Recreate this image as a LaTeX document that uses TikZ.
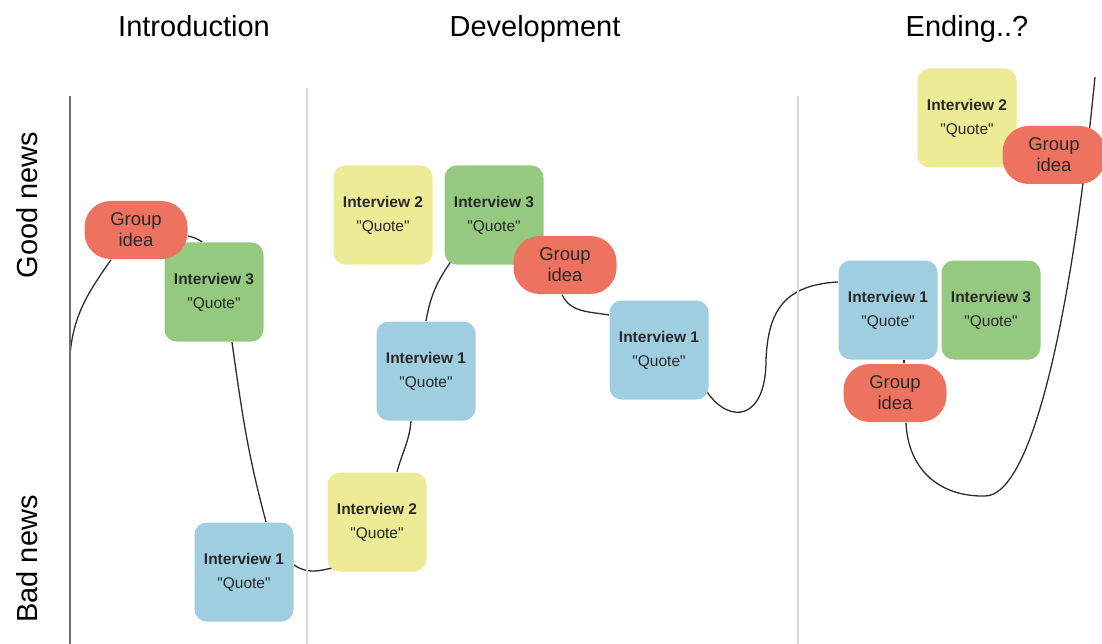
\documentclass[tikz,border=0pt]{standalone}
\usepackage{fontspec}
\setmainfont{Liberation Sans}
\usetikzlibrary{backgrounds}
\tikzstyle{every path}=[line width=1.3pt]
\definecolor{ideared}{RGB}{237,115,96}
\definecolor{quotegreen}{RGB}{150,201,128}
\definecolor{quoteblue}{RGB}{158,206,224}
\definecolor{quoteyellow}{RGB}{238,235,150}
\definecolor{storyline}{RGB}{45,45,45}
\definecolor{notetext}{RGB}{40,40,40}
\definecolor{axisgray}{RGB}{110,110,110}
\definecolor{divider}{RGB}{215,215,215}
\newcommand{\quoteline}{\textquotedbl Quote\textquotedbl}
\tikzstyle{interview} = [rounded corners=12pt, minimum width=99pt, minimum height=99pt,
    inner sep=0pt, align=center, text=notetext, font=\fontsize{15.5}{24}\selectfont]
\tikzstyle{groupidea} = [fill=ideared, rounded corners=26pt, minimum width=103pt,
    minimum height=58pt, inner sep=0pt, align=center, text=notetext,
    font=\fontsize{18.5}{21}\selectfont]
\tikzstyle{heading} = [inner sep=0pt, anchor=base, font=\fontsize{29}{34}\selectfont]
\tikzstyle{story} = [draw=storyline, line width=1.3pt]

\begin{document}
\begin{tikzpicture}[x=1pt, y=-1pt]
            \useasboundingbox (0,0) rectangle (1102,644);

            \node[heading] (intro) at (194,37) {Introduction};
            \node[heading] (devel) at (535,37) {Development};
            \node[heading] (ending) at (967,37) {Ending..?};
            \node[heading, rotate=90] (good) at (37,205) {Good news};
            \node[heading, rotate=90] (bad) at (37,559) {Bad news};

            \draw[axisgray, line width=1.2pt] (70,96) -- (70,644);
            \draw[divider, line width=1.5pt] (307,88) -- (307,644);
            \draw[divider, line width=1.5pt] (798,96) -- (798,644);

            \node[interview, fill=quotegreen] (intro3) at (214,292) {\textbf{Interview 3}\\\quoteline};
            \node[groupidea] (introidea) at (136,230) {Group\\idea};
            \node[interview, fill=quoteblue] (intro1) at (244,572) {\textbf{Interview 1}\\\quoteline};

            \node[interview, fill=quoteyellow] (devel2low) at (377,522) {\textbf{Interview 2}\\\quoteline};
            \node[interview, fill=quoteblue] (devel1low) at (426,371) {\textbf{Interview 1}\\\quoteline};
            \node[interview, fill=quoteyellow] (devel2high) at (383,215) {\textbf{Interview 2}\\\quoteline};
            \node[interview, fill=quotegreen] (devel3) at (494,215) {\textbf{Interview 3}\\\quoteline};
            \node[groupidea] (develidea) at (565,265) {Group\\idea};
            \node[interview, fill=quoteblue] (devel1high) at (659,350) {\textbf{Interview 1}\\\quoteline};

            \node[interview, fill=quoteblue] (ending1) at (888,310) {\textbf{Interview 1}\\\quoteline};
            \node[interview, fill=quotegreen] (ending3) at (991,310) {\textbf{Interview 3}\\\quoteline};
            \node[groupidea] (endingidea) at (895,393) {Group\\idea};
            \node[interview, fill=quoteyellow] (ending2) at (967,118) {\textbf{Interview 2}\\\quoteline};
            \node[groupidea] (endingtop) at (1054,155) {Group\\idea};

            \coordinate (start) at (70,355);
            \coordinate (dip) at (766,360);
            \coordinate (low) at (985,496);
            \coordinate (top) at (1095,77);

            \begin{pgfonlayer}{background}
            \draw[story] (start) to[out=85, in=235] (introidea.230);
            \draw[story] ([yshift=-6pt]introidea.east) to[bend left=10] ([xshift=-12pt]intro3.north);
            \draw[story] ([xshift=18pt]intro3.south) to[out=-82, in=105] ([xshift=22pt]intro1.north);
            \draw[story] ([yshift=7pt]intro1.east) to[out=-35, in=195]
                ([xshift=8pt, yshift=5pt]devel2low.south west);
            \draw[story] ([xshift=20pt]devel2low.north) to[out=75, in=-95] ([xshift=-15pt]devel1low.south);
            \draw[story] (devel1low.north) to[out=80, in=235] ([xshift=8pt, yshift=5pt]devel3.south west);
            \draw[story] ([xshift=-3pt]develidea.south) to[out=-65, in=170] ([yshift=35pt]devel1high.west);
            \draw[story] ([xshift=-2pt, yshift=8pt]devel1high.south east) .. controls (730,425) and (766,420) .. (dip)
                .. controls (768,310) and (785,285) .. ([yshift=28pt]ending1.west);
            \draw[story] ([xshift=16pt]ending1.south) -- ([xshift=9pt]endingidea.north);
            \draw[story] ([xshift=11pt]endingidea.south) .. controls (908,470) and (940,497) .. (low)
                .. controls (1030,496) and (1070,330) .. (top);
            \end{pgfonlayer}
        \end{tikzpicture}
\end{document}
